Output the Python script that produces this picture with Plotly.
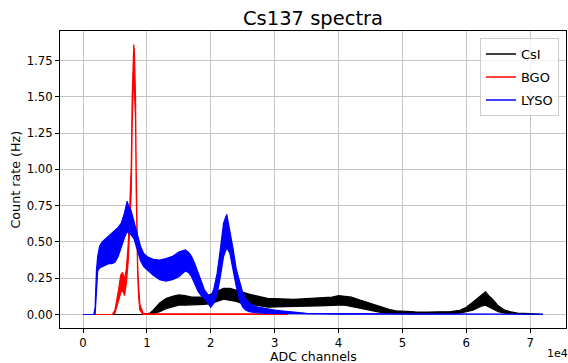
import plotly.graph_objects as go

# ---------------- data ----------------
# channels (ADC), upper and lower envelope of the noisy count rate (Hz)
csi_x = [0, 9500, 10500, 11000, 12000, 13000, 14000, 15000, 16000, 17000, 18000, 19000,
         20000, 21000, 22000, 23000, 24000, 25000, 26000, 27000, 28000, 29000, 30000,
         31500, 33000, 35000, 37000, 39000, 40000, 41000, 42000, 43000, 44000, 45000,
         46000, 47000, 48000, 49000, 50000, 52000, 54000, 56000, 57500, 59000, 60000,
         61000, 62000, 62500, 63000, 63500, 64000, 65000, 66000, 67000, 68000, 70000, 72000]
csi_hi = [0, 0.0, 0.01, 0.03, 0.08, 0.11, 0.125, 0.135, 0.13, 0.12, 0.12, 0.12,
          0.14, 0.16, 0.18, 0.18, 0.165, 0.15, 0.14, 0.13, 0.12, 0.11, 0.11,
          0.105, 0.104, 0.11, 0.115, 0.12, 0.13, 0.125, 0.12, 0.105, 0.09, 0.075,
          0.06, 0.045, 0.034, 0.026, 0.022, 0.018, 0.017, 0.018, 0.02, 0.029, 0.05,
          0.085, 0.12, 0.14, 0.156, 0.13, 0.11, 0.06, 0.03, 0.018, 0.01, 0.006, 0.005]
csi_lo = [0, 0, 0.0, 0.01, 0.02, 0.04, 0.055, 0.065, 0.065, 0.065, 0.067, 0.07,
          0.075, 0.09, 0.105, 0.10, 0.09, 0.075, 0.07, 0.065, 0.06, 0.05, 0.052,
          0.055, 0.057, 0.057, 0.06, 0.064, 0.064, 0.064, 0.06, 0.046, 0.038, 0.029,
          0.02, 0.011, 0.008, 0.007, 0.006, 0.004, 0.003, 0.004, 0.005, 0.01, 0.02,
          0.03, 0.05, 0.06, 0.064, 0.055, 0.041, 0.02, 0.01, 0.005, 0.002, 0.0, 0.0]

bgo_x = [0, 4600, 5000, 5300, 5600, 5900, 6200, 6500, 6800, 7100, 7400, 7550, 7700,
         7850, 7950, 8050, 8220, 8330, 8400, 8450, 8550, 8700, 8900, 9400, 10000, 32000]
bgo_hi = [0, 0, 0.03, 0.10, 0.18, 0.27, 0.29, 0.24, 0.32, 0.50, 0.80, 1.02, 1.50,
          1.78, 1.86, 1.80, 1.50, 1.00, 0.79, 0.55, 0.35, 0.20, 0.07, 0.01, 0.004, 0.004]
bgo_lo = [0, 0, 0.01, 0.05, 0.10, 0.15, 0.17, 0.13, 0.22, 0.38, 0.65, 0.85, 1.30,
          1.55, 1.65, 1.60, 1.35, 0.85, 0.65, 0.45, 0.28, 0.12, 0.03, 0.0, 0, 0]

lyso_x = [0, 1700, 1900, 2100, 2300, 2600, 3000, 3500, 4000, 4500, 5000, 5500, 6000,
          6500, 6900, 7200, 7500, 8000, 8500, 9000, 9500, 10000, 11000, 12000, 13000,
          14000, 15000, 16000, 16500, 17000, 17500, 18000, 18500, 19000, 19500, 20000,
          20500, 21000, 21500, 22000, 22500, 23000, 23500, 24000, 24500, 25000, 25500,
          26000, 27000, 28000, 29000, 30000, 31000, 32000, 33000, 34000, 35000, 40000,
          50000, 60000, 72000]
lyso_hi = [0, 0.0, 0.05, 0.30, 0.40, 0.47, 0.50, 0.52, 0.54, 0.56, 0.58, 0.60, 0.63,
           0.70, 0.78, 0.74, 0.72, 0.63, 0.55, 0.47, 0.42, 0.40, 0.38, 0.375, 0.385,
           0.40, 0.43, 0.445, 0.43, 0.40, 0.35, 0.285, 0.22, 0.17, 0.14, 0.12,
           0.18, 0.285, 0.45, 0.63, 0.69, 0.58, 0.45, 0.31, 0.22, 0.15, 0.11,
           0.08, 0.055, 0.045, 0.035, 0.03, 0.025, 0.02, 0.015, 0.01, 0.008, 0.006,
           0.005, 0.005, 0.005]
lyso_lo = [0, 0, 0.0, 0.18, 0.30, 0.32, 0.33, 0.34, 0.35, 0.35, 0.36, 0.40, 0.47,
           0.53, 0.57, 0.56, 0.55, 0.52, 0.45, 0.37, 0.33, 0.31, 0.27, 0.24, 0.23,
           0.24, 0.26, 0.30, 0.29, 0.26, 0.21, 0.16, 0.13, 0.11, 0.08, 0.05,
           0.08, 0.14, 0.26, 0.40, 0.46, 0.42, 0.30, 0.19, 0.10, 0.05, 0.03,
           0.02, 0.012, 0.01, 0.008, 0.006, 0.005, 0.004, 0.004, 0.003, 0.003, 0.002,
           0.002, 0.002, 0.002]

series_names = ["CsI", "BGO", "LYSO"]
series_colors = ["black", "red", "blue"]

x_tick_vals = [0, 10000, 20000, 30000, 40000, 50000, 60000, 70000]
x_tick_text = ["0", "1", "2", "3", "4", "5", "6", "7"]
y_tick_vals = [0.0, 0.25, 0.5, 0.75, 1.0, 1.25, 1.5, 1.75]

# ---------------- figure ----------------
FONT = "DejaVu Sans"
fig = go.Figure()

data = [(csi_x, csi_hi, csi_lo), (bgo_x, bgo_hi, bgo_lo), (lyso_x, lyso_hi, lyso_lo)]
for (xs, hi, lo), name, col in zip(data, series_names, series_colors):
    assert len(xs) == len(hi) == len(lo), name
    fig.add_trace(go.Scatter(
        x=xs + xs[::-1], y=hi + lo[::-1], mode="lines", fill="toself",
        fillcolor=col, line=dict(color=col, width=1.2), showlegend=False,
        hoverinfo="skip"))

for i, (name, col) in enumerate(zip(series_names, series_colors)):
    fig.add_trace(go.Scatter(x=[None], y=[None], mode="lines", name=name,
                             line=dict(color=col, width=1.5), legendgroup=name))

axis_common = dict(showgrid=True, gridcolor="#c4c4c4", gridwidth=1,
                   showline=True, linecolor="black", linewidth=1, mirror=True,
                   ticks="outside", ticklen=4, tickcolor="black", tickwidth=1,
                   zeroline=False, tickfont=dict(family=FONT, size=11.7, color="black"))

fig.update_xaxes(range=[-3600, 75600], tickvals=x_tick_vals, ticktext=x_tick_text,
                 **axis_common)
fig.update_yaxes(range=[-0.093, 1.953], tickvals=y_tick_vals, tickformat=".2f",
                 **axis_common)

fig.update_layout(
    width=568, height=363,
    margin=dict(l=60, r=2, t=31, b=35),
    paper_bgcolor="white", plot_bgcolor="white",
    title=dict(text="Cs137 spectra", x=0.5, xref="paper", xanchor="center",
               y=1 - 18 / 363, yanchor="middle",
               font=dict(family=FONT, size=19.5, color="black")),
    legend=dict(x=0.986, y=0.976, xanchor="right", yanchor="top",
                bgcolor="rgba(255,255,255,0.8)", bordercolor="#cccccc", borderwidth=1,
                font=dict(family=FONT, size=13, color="black"), tracegroupgap=3),
    annotations=[
        dict(text="ADC channels", x=0.5, y=(327.7 - 356.5) / 296.7, xref="paper", yref="paper",
             xanchor="center", yanchor="middle", showarrow=False,
             font=dict(family=FONT, size=12.5, color="black")),
        dict(text="Count rate (Hz)", x=(15 - 60) / 506, y=0.5, xref="paper", yref="paper",
             xanchor="center", yanchor="middle", showarrow=False, textangle=-90,
             font=dict(family=FONT, size=12.7, color="black")),
        dict(text="1e4", x=(557 - 60) / 506, y=(327.7 - 353) / 296.7, xref="paper",
             yref="paper", xanchor="center", yanchor="middle", showarrow=False,
             font=dict(family=FONT, size=11, color="black")),
    ],
)

fig.write_html("out.html")
